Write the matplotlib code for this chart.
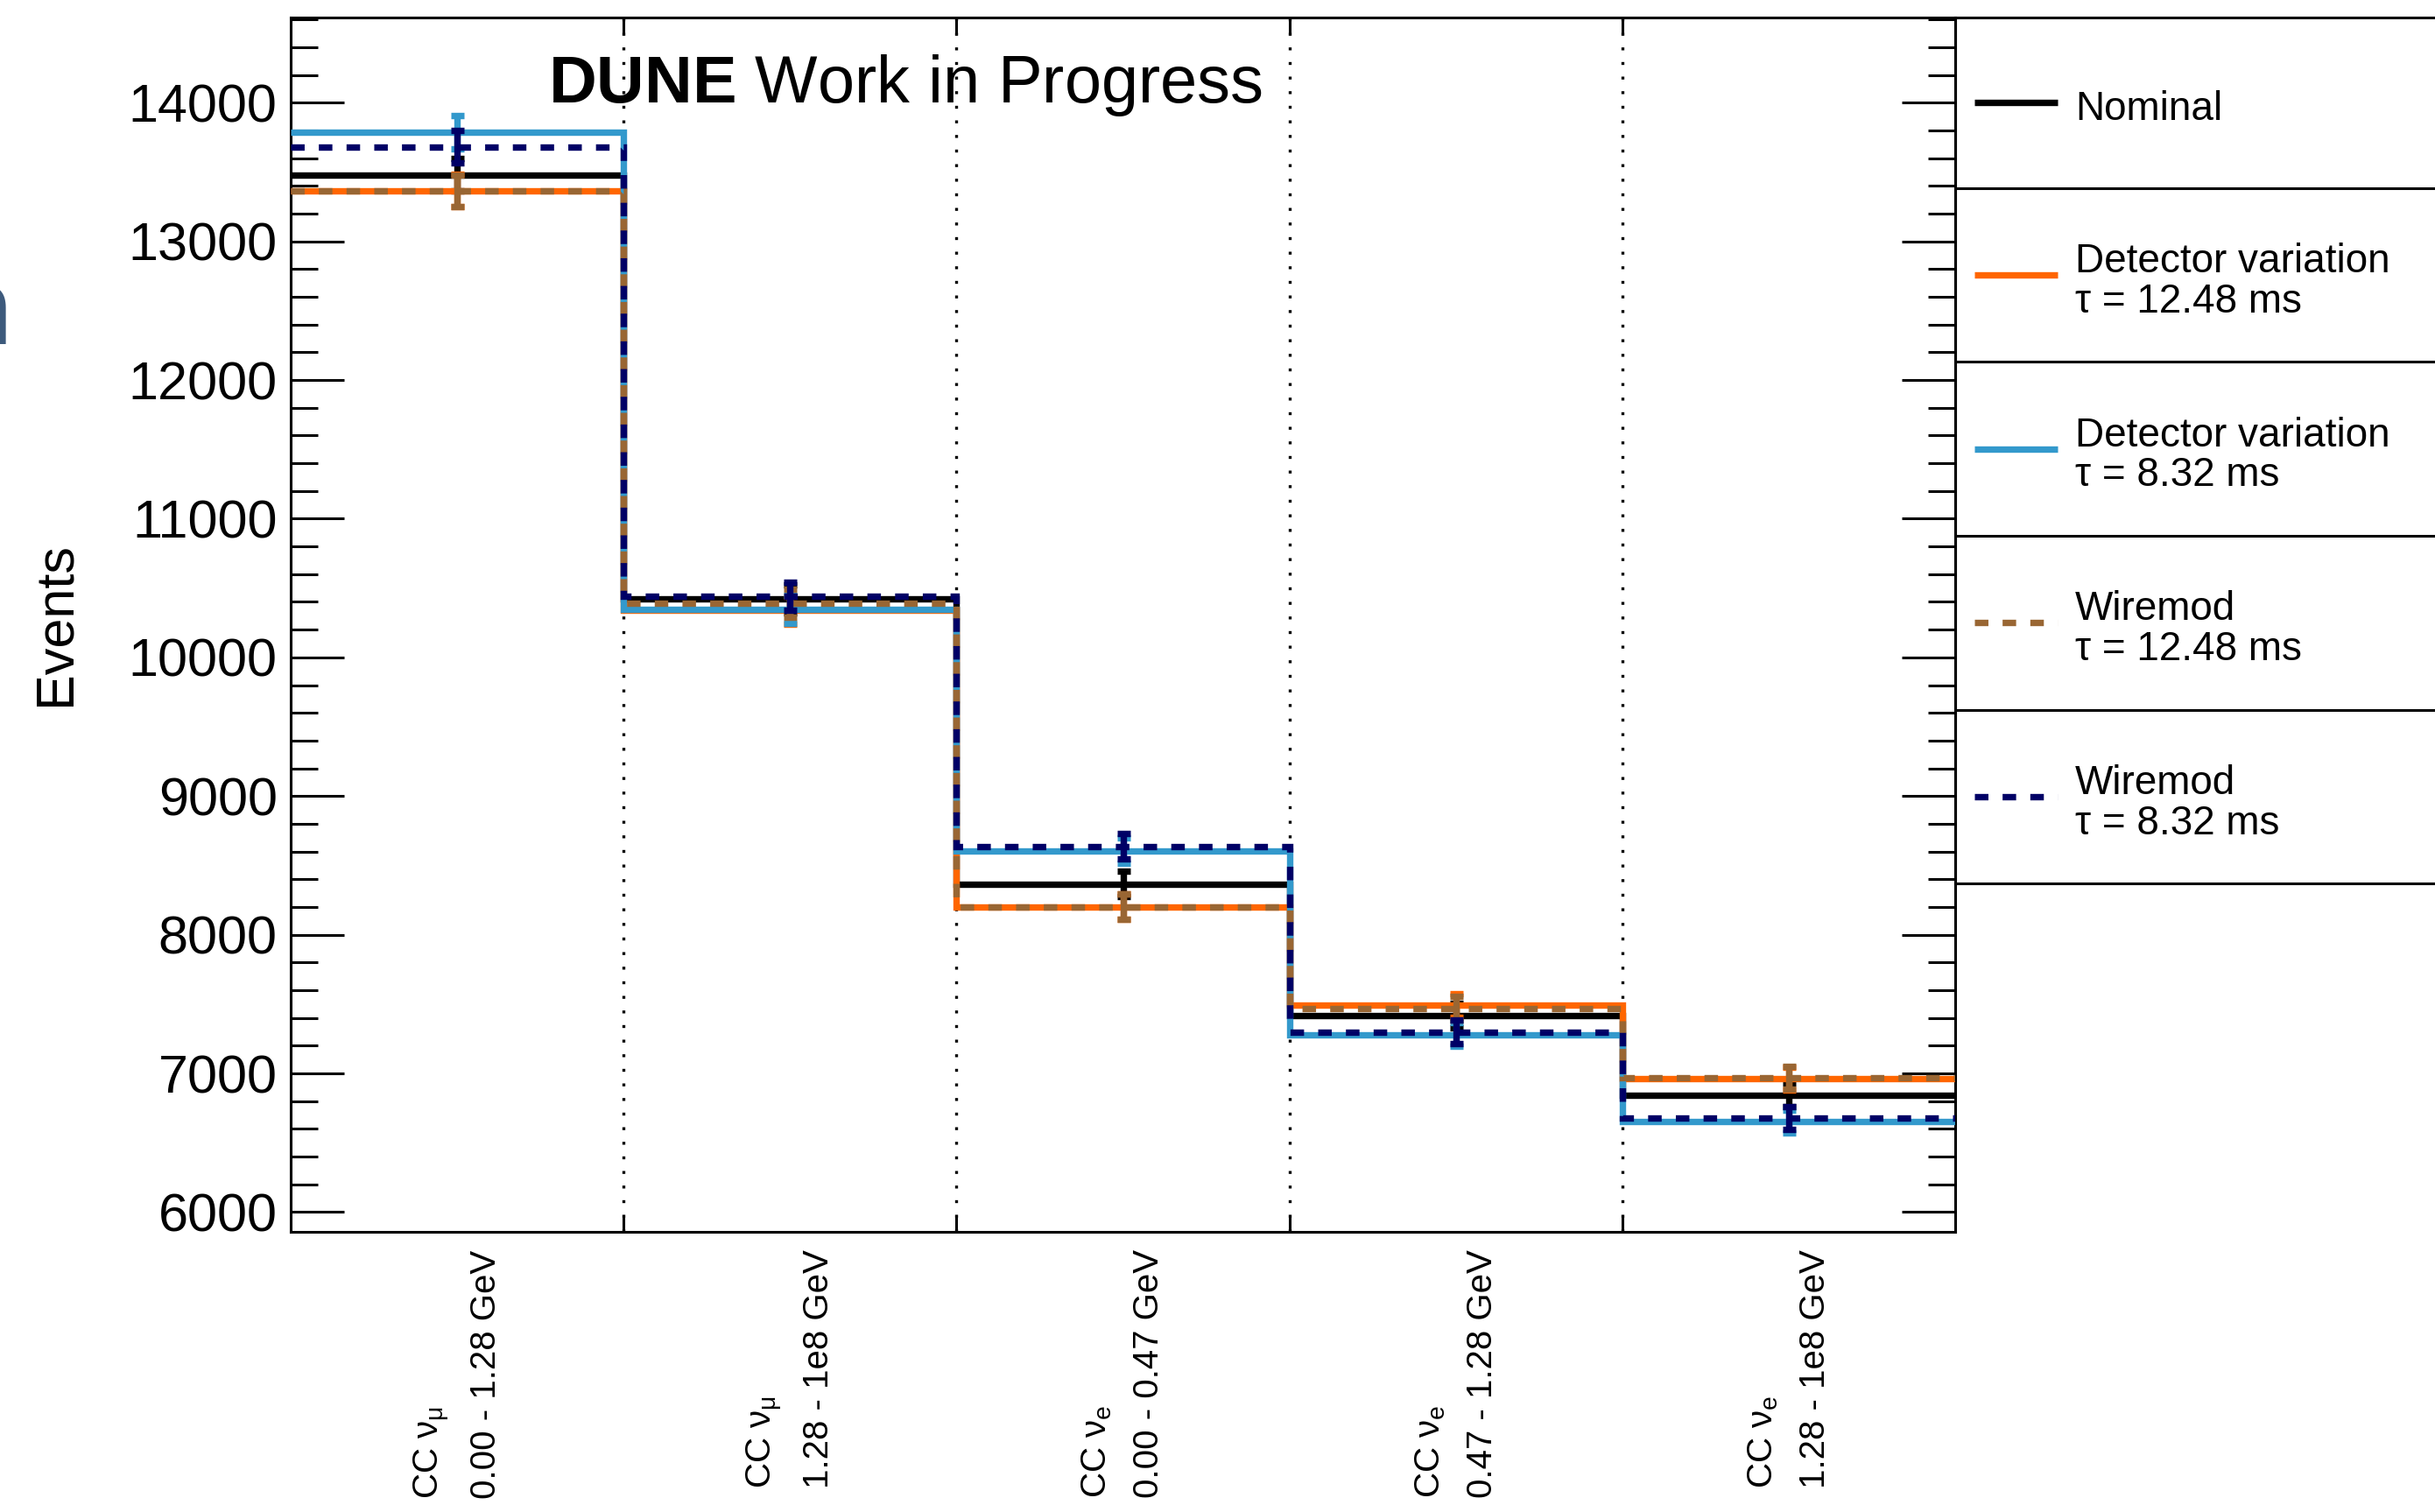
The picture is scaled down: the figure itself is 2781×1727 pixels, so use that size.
import numpy as np
import matplotlib
matplotlib.use("Agg")
import matplotlib.pyplot as plt
from matplotlib.ticker import MultipleLocator, FixedLocator

plt.rcParams['font.family'] = ['Liberation Sans', 'DejaVu Sans']
plt.rcParams['mathtext.fontset'] = 'custom'
plt.rcParams['mathtext.rm'] = 'Liberation Sans'
plt.rcParams['mathtext.it'] = 'Liberation Sans:italic'
plt.rcParams['mathtext.bf'] = 'Liberation Sans:bold'

# bins (analysis categories) and event counts
bin_edges = [0, 1, 2, 3, 4, 5]
bin_labels = [
    "CC \u03bd$_{\\mathrm{\\mu}}$\n0.00 - 1.28 GeV",
    "CC \u03bd$_{\\mathrm{\\mu}}$\n1.28 - 1e8 GeV",
    "CC \u03bd$_{\\mathrm{e}}$\n0.00 - 0.47 GeV",
    "CC \u03bd$_{\\mathrm{e}}$\n0.47 - 1.28 GeV",
    "CC \u03bd$_{\\mathrm{e}}$\n1.28 - 1e8 GeV",
]

nominal = [13480, 10420, 8365, 7417, 6845]
det_1248 = [13367, 10342, 8202, 7491, 6961]
det_832 = [13787, 10348, 8606, 7280, 6653]
wire_1248 = [13364, 10389, 8202, 7470, 6969]
wire_832 = [13682, 10441, 8638, 7299, 6677]

nominal_err = [116, 102, 91, 86, 83]
det_1248_err = [116, 102, 91, 87, 83]
det_832_err = [117, 102, 93, 85, 82]
wire_1248_err = [116, 102, 91, 86, 83]
wire_832_err = [117, 102, 93, 85, 82]

legend_names = ["Nominal",
                "Detector variation\n\u03c4 = 12.48 ms",
                "Detector variation\n\u03c4 = 8.32 ms",
                "Wiremod\n\u03c4 = 12.48 ms",
                "Wiremod\n\u03c4 = 8.32 ms"]

W, H = 2781, 1727
fig = plt.figure(figsize=(W / 100, H / 100), dpi=100)

# axes frame in pixels: x 332..2233, y 19.5..1406.5 (from top)
ax = fig.add_axes([332 / W, 1 - 1406.5 / H, (2233 - 332) / W, (1406.5 - 19.5) / H])

LW = 5.3
dash = (0, (2.1, 2.2))
series = [
    (nominal, nominal_err, "black", "-"),
    (det_1248, det_1248_err, "#ff6600", "-"),
    (det_832, det_832_err, "#3399cc", "-"),
    (wire_1248, wire_1248_err, "#996633", dash),
    (wire_832, wire_832_err, "#000066", dash),
]

centers = (np.array(bin_edges[:-1]) + np.array(bin_edges[1:])) / 2.0
z = 3
for vals, errs, col, ls in series:
    ax.stairs(vals, bin_edges, baseline=None, color=col, lw=LW,
              linestyle=ls, zorder=z)
    ax.errorbar(centers, vals, yerr=errs, fmt='none', ecolor=col,
                elinewidth=LW, capsize=5.4, capthick=LW, zorder=z)
    z += 1

ax.set_xlim(0, 5)
ax.set_ylim(5861, 14617)

# y axis
ax.yaxis.set_major_locator(MultipleLocator(1000))
ax.yaxis.set_minor_locator(MultipleLocator(200))
ax.tick_params(axis='y', which='major', direction='in', length=44, width=2.2,
               left=True, right=True, labelsize=44, pad=11)
ax.tick_params(axis='y', which='minor', direction='in', length=22, width=2.2,
               left=True, right=True)
ax.set_ylabel("Events", fontsize=44)
ax.yaxis.set_label_coords(-0.126, 0.5)

# x axis: labels at bin centres, marks/grid at bin edges
ax.set_xticks(centers)
ax.set_xticklabels(bin_labels, rotation=90, fontsize=29, linespacing=1.7)
for lab in ax.get_xticklabels():
    lab.set_multialignment('left')
ax.tick_params(axis='x', which='major', length=0, pad=15)
ax.xaxis.set_minor_locator(FixedLocator(bin_edges[1:-1]))
ax.tick_params(axis='x', which='minor', direction='in', length=14, width=2.2,
               top=True, bottom=True)
ax.grid(which='minor', axis='x', color='black', lw=2.4, linestyle=(0, (1, 4)))
ax.set_axisbelow(True)

for sp in ax.spines.values():
    sp.set_linewidth(2.2)

# title
fig.text(626 / W, 1 - 117 / H, r"$\bf{DUNE}$ Work in Progress", fontsize=54.5,
         ha='left', va='baseline')

# legend box to the right of the frame (boxes with separators)
lax = fig.add_axes([2233 / W, 1 - 1009 / H, 0.3, (1009 - 19.5) / H])
lax.set_xlim(0, 0.3 * W)
lax.set_ylim(989.5, 0)
lax.set_xticks([])
lax.set_yticks([])
lax.patch.set_alpha(0)
lax.spines['right'].set_visible(False)
for s in ['left', 'top', 'bottom']:
    lax.spines[s].set_linewidth(2.2)
row_edges = [0, 195.1, 393.5, 592.5, 791, 989.5]
for yb in row_edges[1:-1]:
    lax.axhline(yb, color='black', lw=2.2)
for i, (name, (vals, errs, col, ls)) in enumerate(zip(legend_names, series)):
    yc = (row_edges[i] + row_edges[i + 1]) / 2.0
    lax.plot([22, 117], [yc, yc], color=col, lw=LW, linestyle=ls,
             solid_capstyle='butt', dash_capstyle='butt')
    lax.text(137, yc + 8, name, fontsize=33, ha='left', va='center',
             linespacing=1.05)

# fragment of a letter cut at the left edge of the slide
fig.text(14 / W, 1 - 393 / H, "n", fontsize=90, fontweight='bold',
         color='#3d5a7c', ha='right', va='baseline')

fig.savefig("out.png", dpi=100)
